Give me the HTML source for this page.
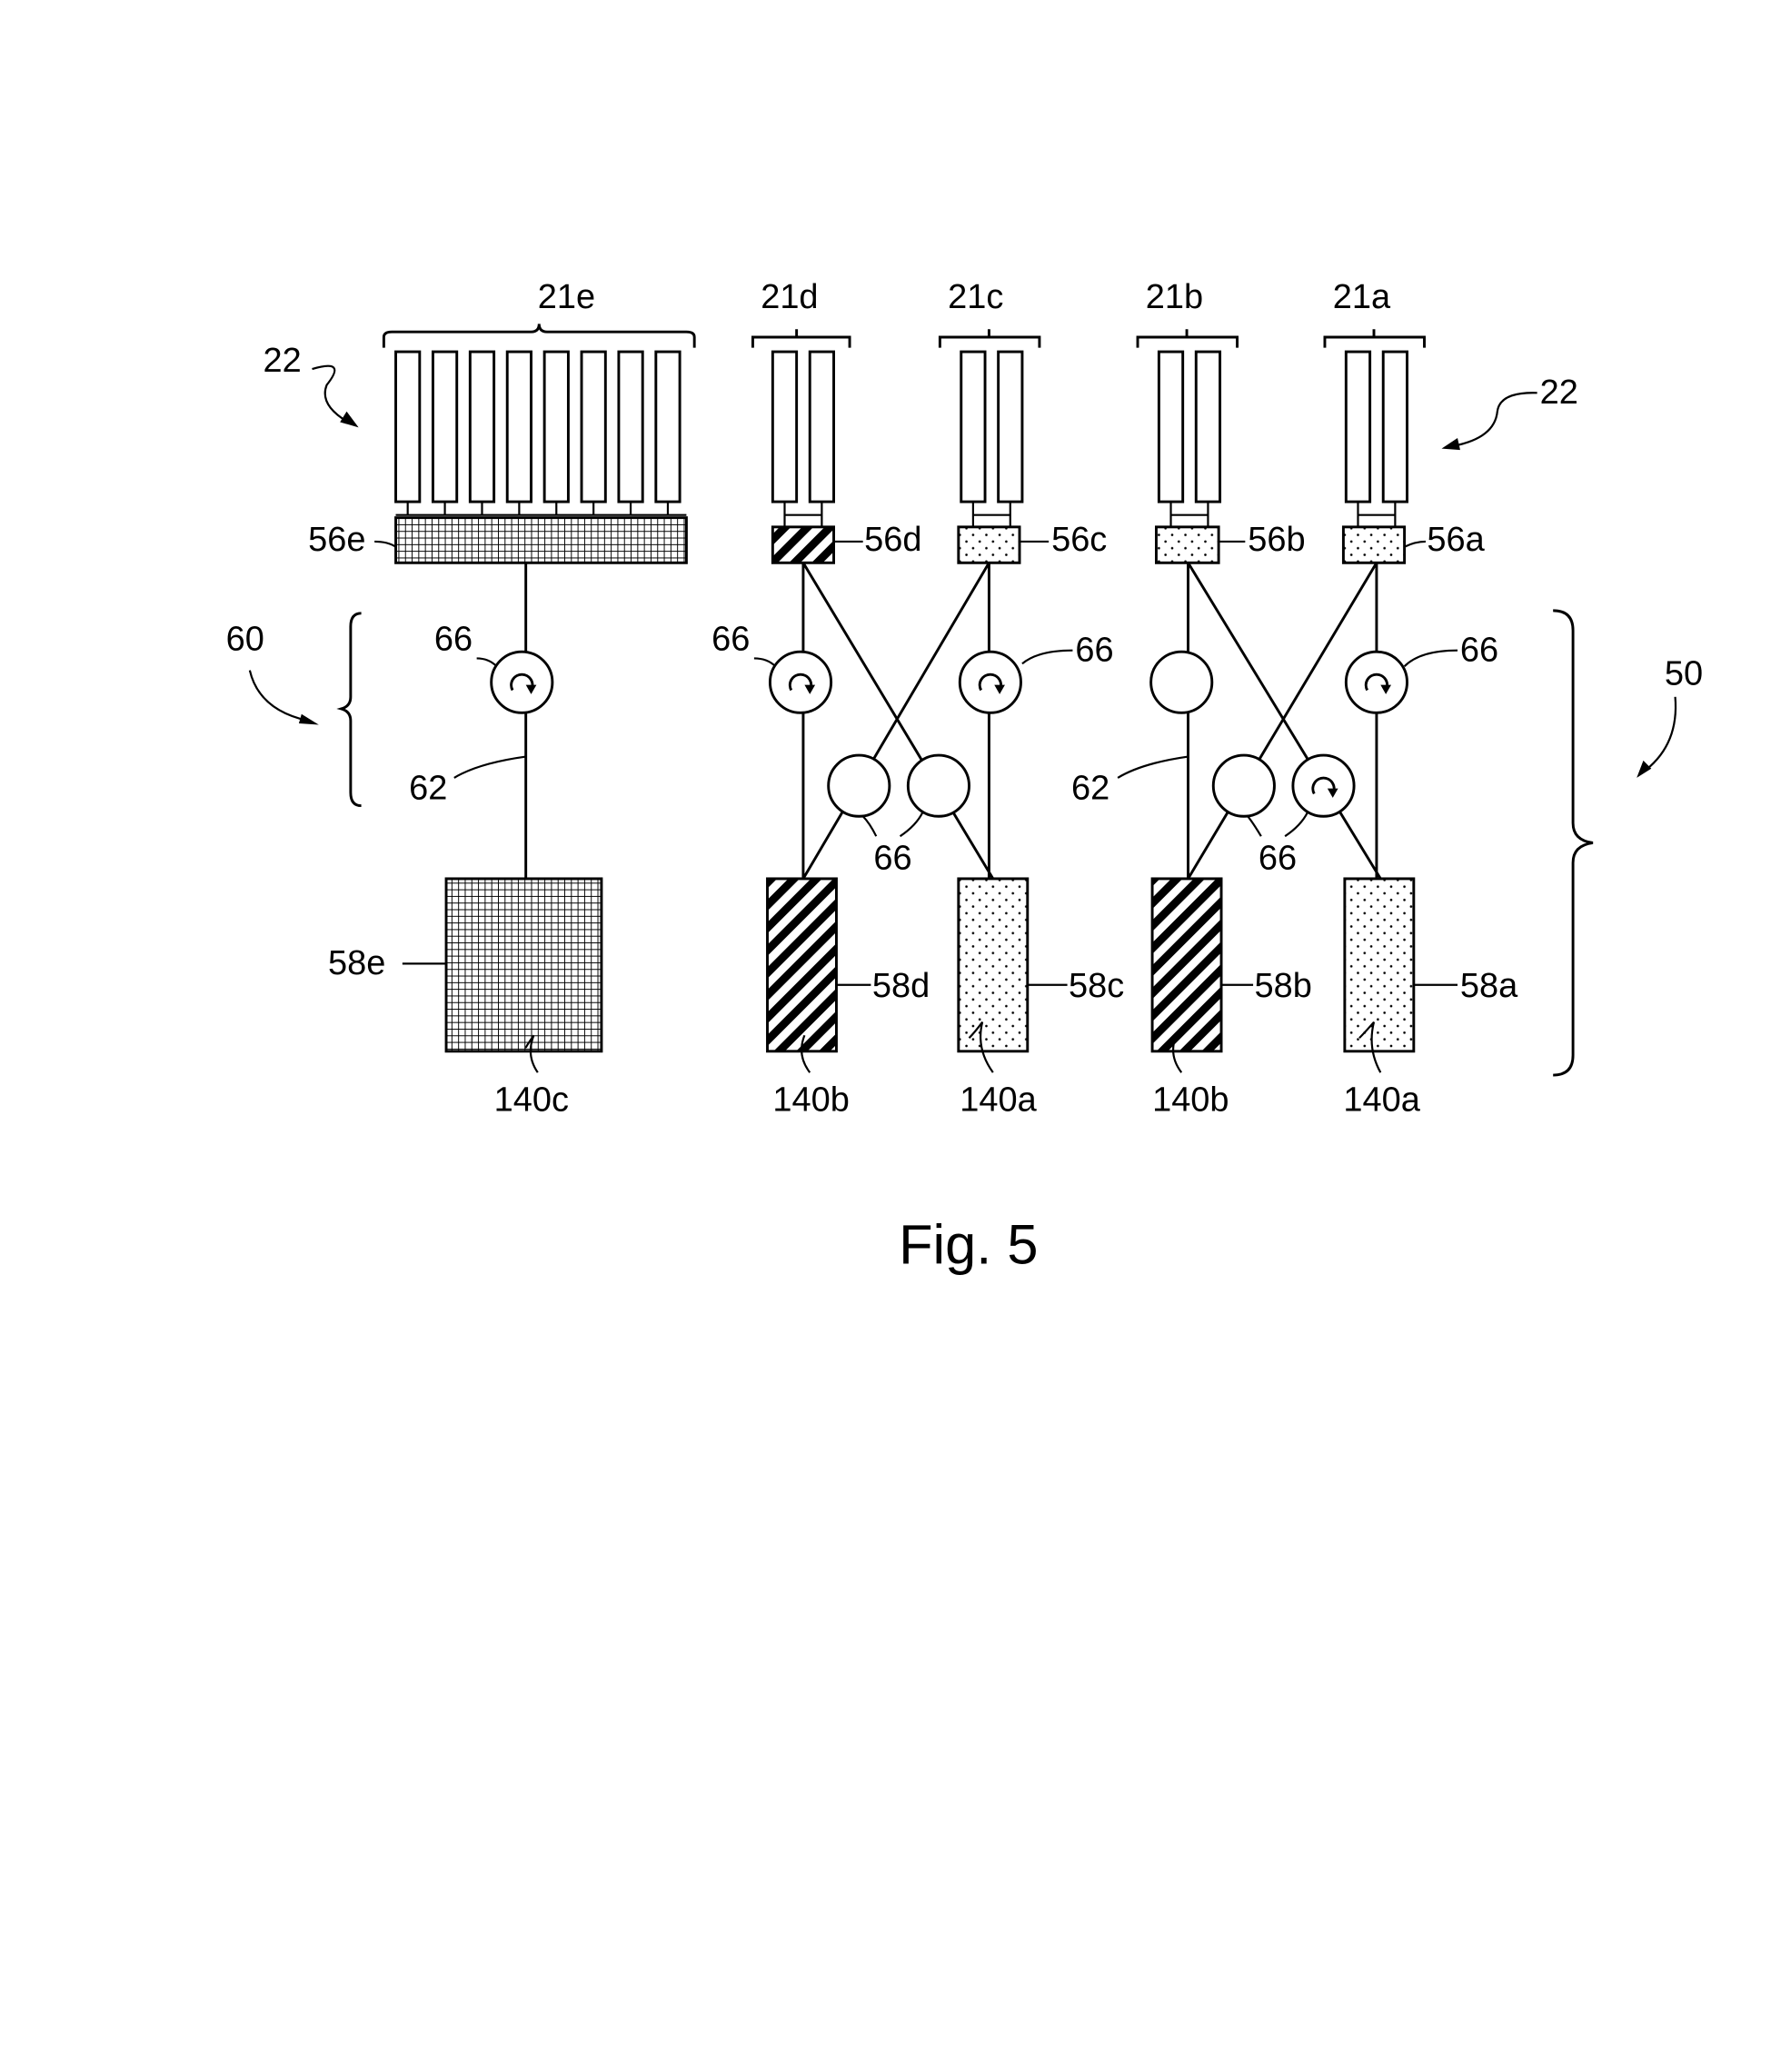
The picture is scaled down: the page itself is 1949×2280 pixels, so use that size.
<!DOCTYPE html>
<html><head><meta charset="utf-8"><style>html,body{margin:0;padding:0;background:#fff}svg{display:block}</style></head>
<body>
<svg width="1949" height="2280" viewBox="0 0 1334 1561" xmlns="http://www.w3.org/2000/svg" font-family="Liberation Sans, sans-serif" font-size="26" fill="none" stroke="#000" stroke-width="2">
<defs>
<pattern id="grid" width="5" height="5" patternUnits="userSpaceOnUse"><path d="M0 0H5M0 0V5" stroke="#000" stroke-width="1.3"/></pattern>
<pattern id="diag" width="12" height="12" patternUnits="userSpaceOnUse" patternTransform="rotate(45)"><rect width="6" height="12" fill="#000" stroke="none"/></pattern>
<pattern id="dots" width="10" height="10" patternUnits="userSpaceOnUse"><circle cx="3" cy="3" r="0.9" fill="#000" stroke="none"/><circle cx="8" cy="8" r="0.9" fill="#000" stroke="none"/></pattern>
</defs>
<g fill="#000" stroke="none">
<text x="405" y="232">21e</text><text x="573" y="232">21d</text><text x="714" y="232">21c</text>
<text x="863" y="232">21b</text><text x="1004" y="232">21a</text>
<text x="198" y="280">22</text><text x="1160" y="304">22</text>
<text x="232" y="415">56e</text><text x="651" y="415">56d</text><text x="792" y="415">56c</text>
<text x="940" y="415">56b</text><text x="1075" y="415">56a</text>
<text x="170" y="490">60</text><text x="327" y="490">66</text><text x="536" y="490">66</text>
<text x="810" y="498">66</text><text x="1100" y="498">66</text><text x="1254" y="516">50</text>
<text x="308" y="602">62</text><text x="807" y="602">62</text>
<text x="658" y="655">66</text><text x="948" y="655">66</text>
<text x="247" y="734">58e</text><text x="657" y="751">58d</text><text x="805" y="751">58c</text>
<text x="945" y="751">58b</text><text x="1100" y="751">58a</text>
<text x="372" y="837">140c</text><text x="582" y="837">140b</text><text x="723" y="837">140a</text>
<text x="868" y="837">140b</text><text x="1012" y="837">140a</text>
<text x="677" y="952" font-size="42">Fig. 5</text>
</g>
<!-- braces top -->
<path d="M289 262V254Q289 250 295 250H400Q406 250 406 244Q406 250 412 250H517Q523 250 523 254V262"/>
<path d="M567 262V254H600V248V254H640V262"/>
<path d="M708 262V254H745V248V254H783V262"/>
<path d="M857 262V254H894V248V254H932V262"/>
<path d="M998 262V254H1035V248V254H1073V262"/>
<!-- 21e rects -->
<g fill="#fff">
<rect x="298" y="265" width="18" height="113"/><rect x="326" y="265" width="18" height="113"/>
<rect x="354" y="265" width="18" height="113"/><rect x="382" y="265" width="18" height="113"/>
<rect x="410" y="265" width="18" height="113"/><rect x="438" y="265" width="18" height="113"/>
<rect x="466" y="265" width="18" height="113"/><rect x="494" y="265" width="18" height="113"/>
<rect x="582" y="265" width="18" height="113"/><rect x="610" y="265" width="18" height="113"/>
<rect x="724" y="265" width="18" height="113"/><rect x="752" y="265" width="18" height="113"/>
<rect x="873" y="265" width="18" height="113"/><rect x="901" y="265" width="18" height="113"/>
<rect x="1014" y="265" width="18" height="113"/><rect x="1042" y="265" width="18" height="113"/>
</g>
<g stroke-width="1.5">
<path d="M307 378V388M335 378V388M363 378V388M391 378V388M419 378V388M447 378V388M475 378V388M503 378V388M298 388H517"/>
<path d="M591 378V397M619 378V397M591 388H619"/>
<path d="M733 378V397M761 378V397M733 388H761"/>
<path d="M882 378V397M910 378V397M882 388H910"/>
<path d="M1023 378V397M1051 378V397M1023 388H1051"/>
</g>
<rect x="298" y="390" width="219" height="34" fill="url(#grid)"/>
<rect x="582" y="397" width="46" height="27" fill="url(#diag)"/>
<rect x="722" y="397" width="46" height="27" fill="url(#dots)"/>
<rect x="871" y="397" width="47" height="27" fill="url(#dots)"/>
<rect x="1012" y="397" width="46" height="27" fill="url(#dots)"/>
<!-- lines -->
<path d="M396 424V662M605 424V662M745 424V662M605 424L748 662M745 424L605 662"/>
<path d="M895 424V662M1037 424V662M895 424L1040 662M1037 424L895 662"/>
<g fill="#fff">
<circle cx="393" cy="514" r="23"/><circle cx="603" cy="514" r="23"/><circle cx="746" cy="514" r="23"/>
<circle cx="647" cy="592" r="23"/><circle cx="707" cy="592" r="23"/>
<circle cx="890" cy="514" r="23"/><circle cx="1037" cy="514" r="23"/>
<circle cx="937" cy="592" r="23"/><circle cx="997" cy="592" r="23"/>
</g>
<g stroke-width="2">
<path d="M386 520A8 8 0 1 1 400 520"/><path d="M596 520A8 8 0 1 1 610 520"/><path d="M739 520A8 8 0 1 1 753 520"/>
<path d="M1030 520A8 8 0 1 1 1044 520"/><path d="M990 598A8 8 0 1 1 1004 598"/>
</g>
<g fill="#000" stroke="none">
<path d="M396 516l8 0l-4 7z"/><path d="M606 516l8 0l-4 7z"/><path d="M749 516l8 0l-4 7z"/>
<path d="M1040 516l8 0l-4 7z"/><path d="M1000 594l8 0l-4 7z"/>
</g>
<!-- boxes -->
<rect x="336" y="662" width="117" height="130" fill="url(#grid)"/>
<rect x="578" y="662" width="52" height="130" fill="url(#diag)"/>
<rect x="722" y="662" width="52" height="130" fill="url(#dots)"/>
<rect x="868" y="662" width="52" height="130" fill="url(#diag)"/>
<rect x="1013" y="662" width="52" height="130" fill="url(#dots)"/>
<!-- leaders -->
<g stroke-width="1.5">
<path d="M282 408Q292 408 298 412"/><path d="M628 408H650"/><path d="M768 408H790"/><path d="M918 408H938"/><path d="M1058 412Q1066 408 1074 408"/>
<path d="M303 726H336"/><path d="M630 742H656"/><path d="M774 742H804"/><path d="M920 742H944"/><path d="M1065 742H1098"/>
<path d="M359 496Q368 496 374 502"/><path d="M568 496Q578 496 584 502"/><path d="M770 500Q782 490 808 490"/><path d="M1058 502Q1070 490 1098 490"/>
<path d="M342 586Q360 575 396 570"/><path d="M842 586Q860 575 895 570"/>
<path d="M660 630Q655 620 650 615"/><path d="M678 630Q690 622 695 612"/>
<path d="M950 630Q944 620 940 615"/><path d="M968 630Q980 622 985 612"/>
<path d="M405 808Q396 795 402 780Q395 790 396 790"/><path d="M610 808Q600 795 606 780"/><path d="M748 808Q735 790 740 770Q734 778 730 782"/><path d="M890 808Q880 795 886 780"/><path d="M1040 808Q1030 790 1035 770Q1028 778 1024 782"/>
<path d="M235 278Q262 270 246 290Q240 305 262 318"/><path d="M1158 296Q1130 295 1128 310Q1126 330 1095 336"/>
<path d="M188 505Q195 535 232 543"/><path d="M1262 525Q1265 560 1240 580"/>
</g>
<g fill="#000" stroke="none">
<path d="M270 322l-14 -4l5 -8z"/><path d="M1086 338l12 -8l2 9z"/><path d="M240 546l-13 -8l-2 7z"/><path d="M1233 586l5 -13l6 6z"/>
</g>
<!-- big braces -->
<path d="M272 462Q264 462 264 472V525Q264 532 257 534Q264 536 264 543V597Q264 607 272 607"/>
<path d="M1170 460Q1185 460 1185 475V620Q1185 633 1200 635Q1185 637 1185 650V795Q1185 810 1170 810"/>
</svg>
</body></html>
